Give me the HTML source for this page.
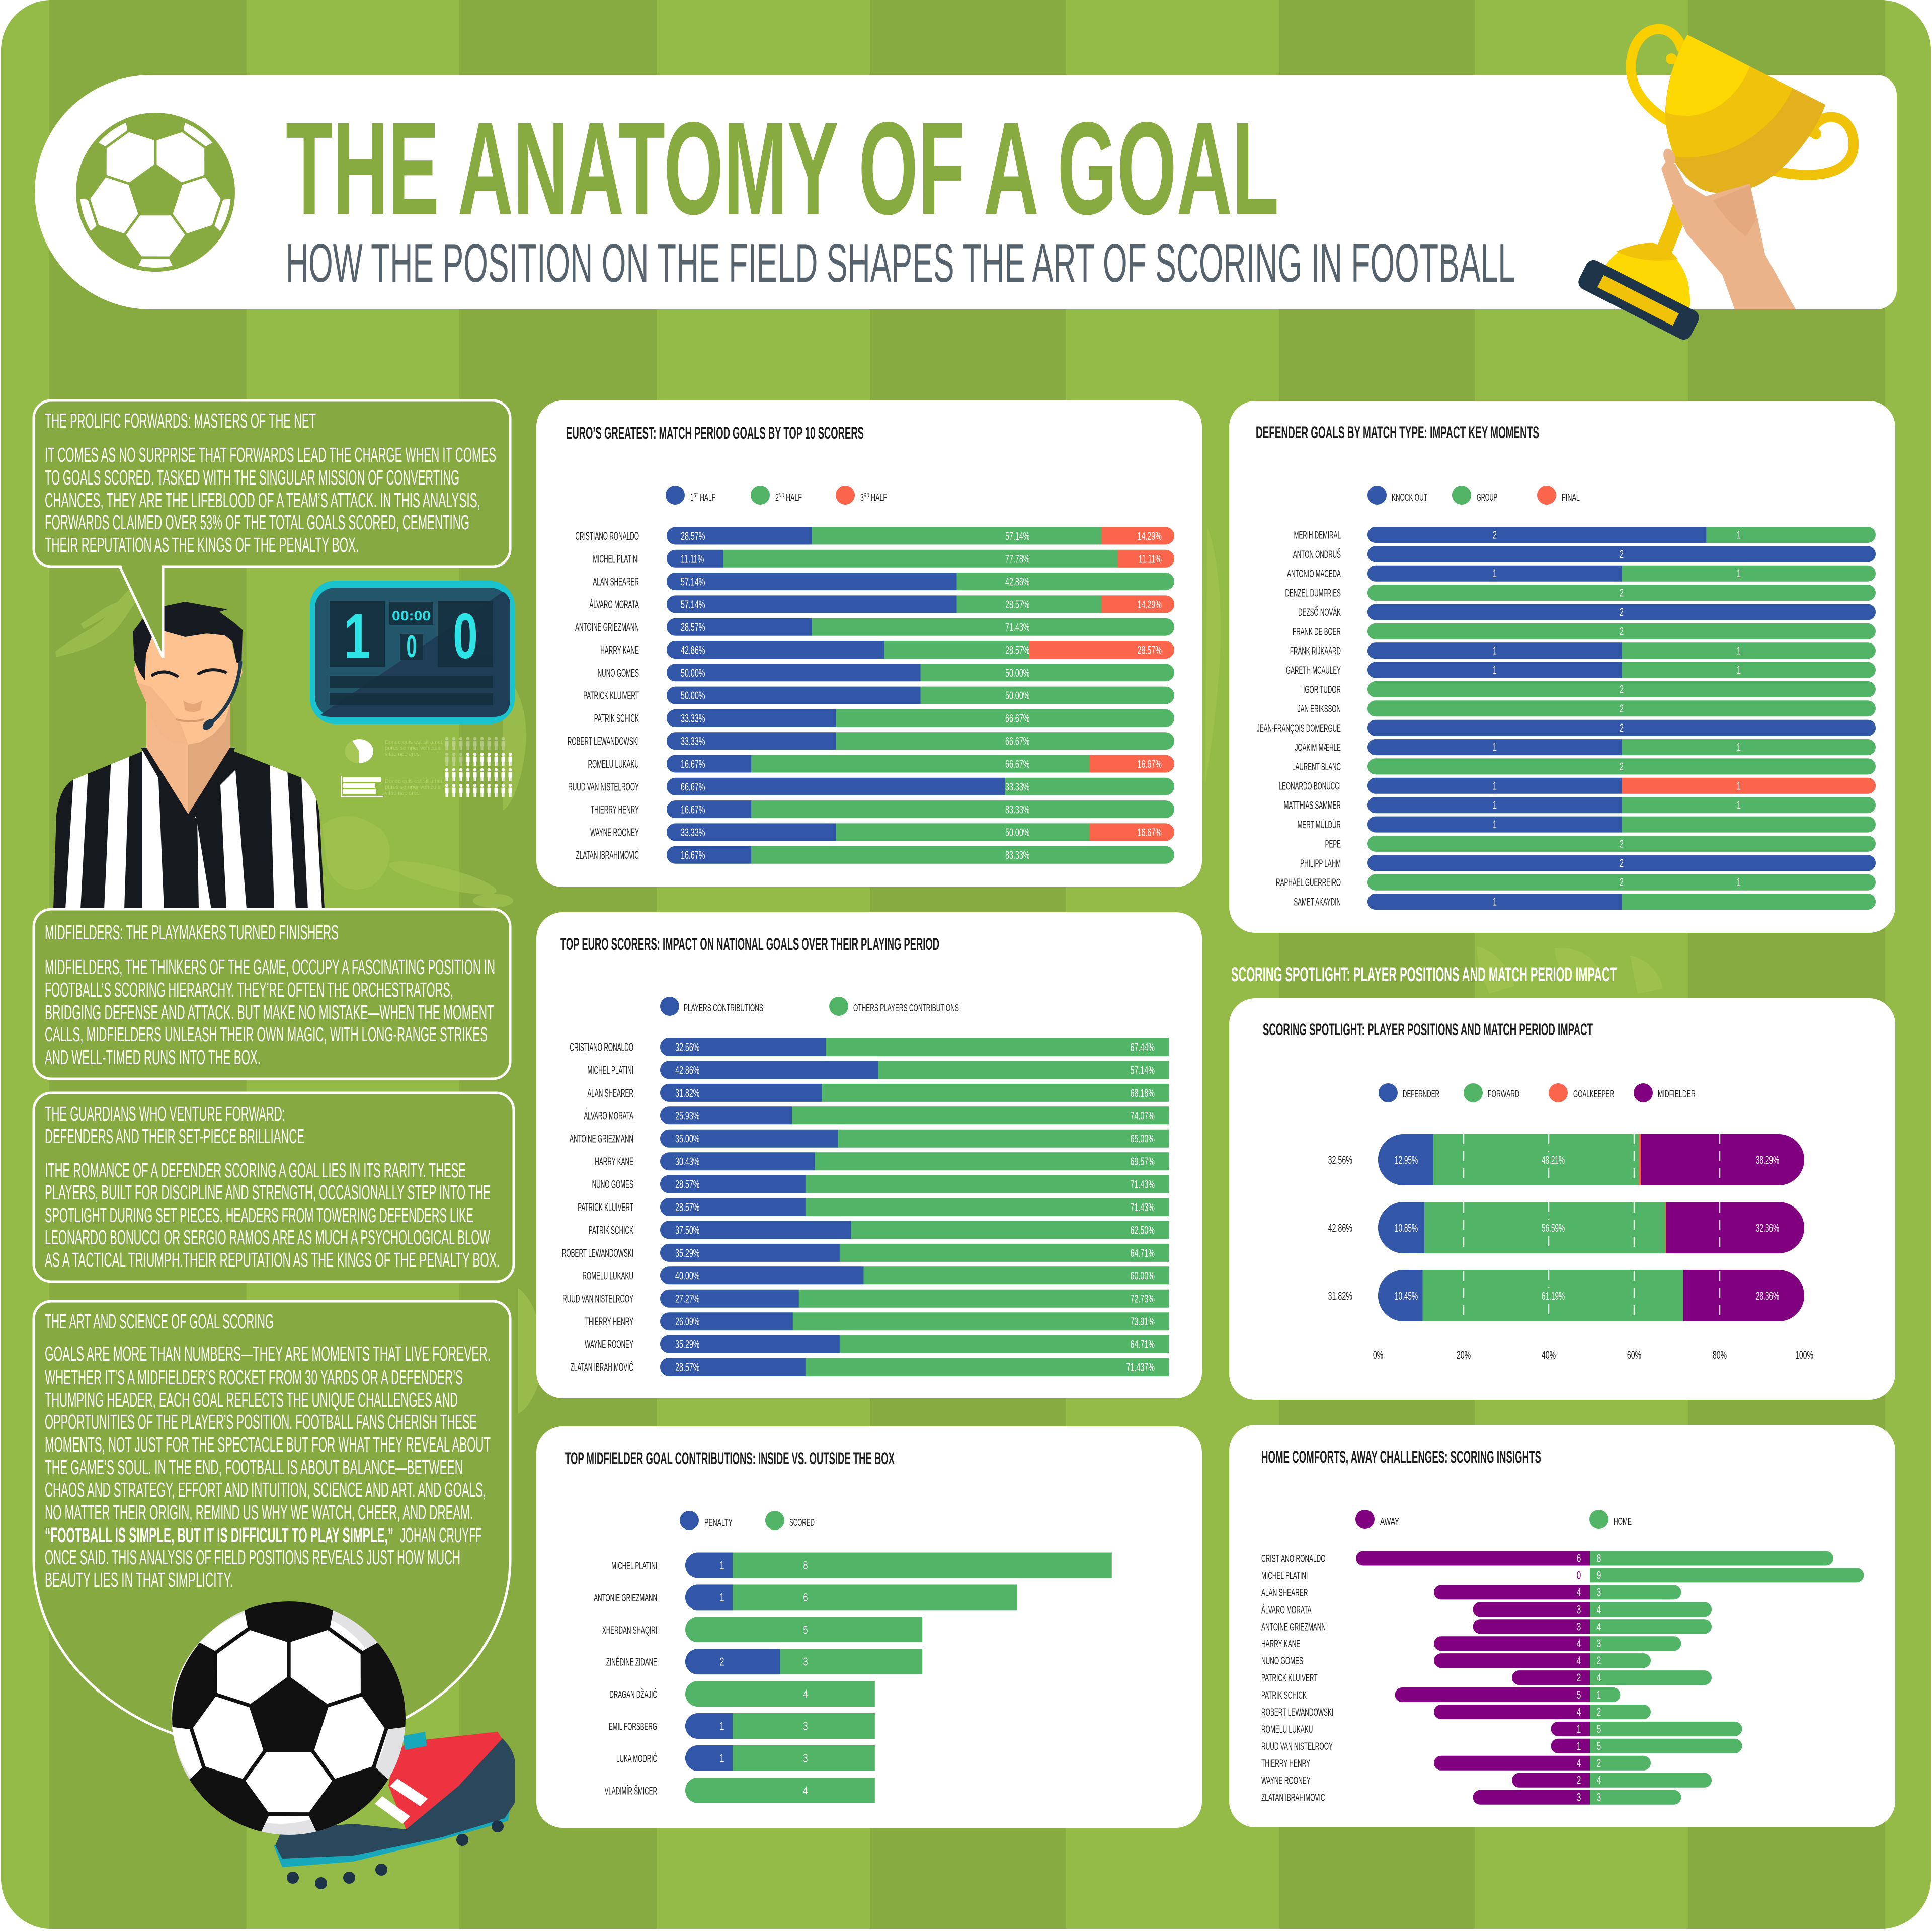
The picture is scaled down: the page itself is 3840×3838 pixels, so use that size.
<!DOCTYPE html>
<html><head><meta charset="utf-8"><title>The Anatomy of a Goal</title>
<style>
html,body{margin:0;padding:0;background:#fff;}
svg{display:block}
text{font-family:"Liberation Sans",sans-serif}
.pt{font-size:41px;fill:#fff}
.ct{font-size:34px;font-weight:bold;fill:#1c1c1c}
.lg{font-size:20px;fill:#1c1c1c}
.nm{font-size:22px;fill:#1c1c1c}
.nm2{font-size:21px;fill:#1c1c1c}
.wl{font-size:22px;fill:#fff}
.wd{font-size:23px;fill:#fff}
</style></head><body>
<svg width="3840" height="3838" viewBox="0 0 3840 3838" xmlns="http://www.w3.org/2000/svg">
<defs>
<clipPath id="pg"><rect x="2" y="0" width="3836" height="3834" rx="100"/></clipPath>
<clipPath id="bc"><circle r="151"/></clipPath>
<clipPath id="bc2"><circle r="158"/></clipPath>
<g id="arm"><line x1="0" y1="-54" x2="0" y2="-105"/><polygon points="0,-105 53,-122 64,-180 -64,-180 -53,-122"/><line x1="-53" y1="-122" x2="-100" y2="-88"/></g>
<g id="bp"><polygon points="0,-54 51.4,-16.7 31.7,43.7 -31.7,43.7 -51.4,-16.7"/><use href="#arm"/><use href="#arm" transform="rotate(72)"/><use href="#arm" transform="rotate(144)"/><use href="#arm" transform="rotate(216)"/><use href="#arm" transform="rotate(288)"/></g>
<pattern id="pp" x="881" y="1464" width="14" height="31" patternUnits="userSpaceOnUse"><circle cx="7" cy="4" r="3.3" fill="#fff"/><rect x="3.5" y="8.5" width="7" height="11" rx="1.5" fill="#fff"/><rect x="4.5" y="19" width="2.3" height="8" fill="#fff"/><rect x="7.3" y="19" width="2.3" height="8" fill="#fff"/></pattern>
<clipPath id="sh"><path d="M147 1549 L291 1490 L374 1620 L457 1490 L600 1546 Q630 1570 635 1620 L645 1807 L106 1807 L112 1620 Q118 1565 147 1549 Z"/></clipPath>
<clipPath id="c1">
<rect x="1325" y="1047.5" width="1009" height="35" rx="17.5"/><rect x="1325" y="1092.8" width="1009" height="35" rx="17.5"/><rect x="1325" y="1138.1" width="1009" height="35" rx="17.5"/><rect x="1325" y="1183.4" width="1009" height="35" rx="17.5"/><rect x="1325" y="1228.7" width="1009" height="35" rx="17.5"/><rect x="1325" y="1274" width="1009" height="35" rx="17.5"/><rect x="1325" y="1319.3" width="1009" height="35" rx="17.5"/><rect x="1325" y="1364.6" width="1009" height="35" rx="17.5"/><rect x="1325" y="1409.9" width="1009" height="35" rx="17.5"/><rect x="1325" y="1455.2" width="1009" height="35" rx="17.5"/><rect x="1325" y="1500.5" width="1009" height="35" rx="17.5"/><rect x="1325" y="1545.8" width="1009" height="35" rx="17.5"/><rect x="1325" y="1591.1" width="1009" height="35" rx="17.5"/><rect x="1325" y="1636.4" width="1009" height="35" rx="17.5"/><rect x="1325" y="1681.7" width="1009" height="35" rx="17.5"/>
</clipPath>
<clipPath id="c2">
<rect x="2718" y="1047" width="1010" height="32" rx="16"/><rect x="2718" y="1085.4" width="1010" height="32" rx="16"/><rect x="2718" y="1123.7" width="1010" height="32" rx="16"/><rect x="2718" y="1162.1" width="1010" height="32" rx="16"/><rect x="2718" y="1200.5" width="1010" height="32" rx="16"/><rect x="2718" y="1238.9" width="1010" height="32" rx="16"/><rect x="2718" y="1277.2" width="1010" height="32" rx="16"/><rect x="2718" y="1315.6" width="1010" height="32" rx="16"/><rect x="2718" y="1354" width="1010" height="32" rx="16"/><rect x="2718" y="1392.3" width="1010" height="32" rx="16"/><rect x="2718" y="1430.7" width="1010" height="32" rx="16"/><rect x="2718" y="1469.1" width="1010" height="32" rx="16"/><rect x="2718" y="1507.4" width="1010" height="32" rx="16"/><rect x="2718" y="1545.8" width="1010" height="32" rx="16"/><rect x="2718" y="1584.2" width="1010" height="32" rx="16"/><rect x="2718" y="1622.6" width="1010" height="32" rx="16"/><rect x="2718" y="1660.9" width="1010" height="32" rx="16"/><rect x="2718" y="1699.3" width="1010" height="32" rx="16"/><rect x="2718" y="1737.7" width="1010" height="32" rx="16"/><rect x="2718" y="1776" width="1010" height="32" rx="16"/>
</clipPath>
<clipPath id="c3">
<rect x="1312" y="2063" width="1060" height="36" rx="18"/><rect x="1312" y="2108.4" width="1060" height="36" rx="18"/><rect x="1312" y="2153.9" width="1060" height="36" rx="18"/><rect x="1312" y="2199.3" width="1060" height="36" rx="18"/><rect x="1312" y="2244.7" width="1060" height="36" rx="18"/><rect x="1312" y="2290.2" width="1060" height="36" rx="18"/><rect x="1312" y="2335.6" width="1060" height="36" rx="18"/><rect x="1312" y="2381" width="1060" height="36" rx="18"/><rect x="1312" y="2426.4" width="1060" height="36" rx="18"/><rect x="1312" y="2471.9" width="1060" height="36" rx="18"/><rect x="1312" y="2517.3" width="1060" height="36" rx="18"/><rect x="1312" y="2562.7" width="1060" height="36" rx="18"/><rect x="1312" y="2608.2" width="1060" height="36" rx="18"/><rect x="1312" y="2653.6" width="1060" height="36" rx="18"/><rect x="1312" y="2699" width="1060" height="36" rx="18"/>
</clipPath>
<clipPath id="c4">
<rect x="2739" y="2254" width="847" height="102" rx="51"/><rect x="2739" y="2389" width="847" height="102" rx="51"/><rect x="2739" y="2524" width="847" height="102" rx="51"/>
</clipPath>
<clipPath id="c5">
<rect x="1362" y="3085.5" width="900" height="51" rx="25.5"/><rect x="1362" y="3149.4" width="900" height="51" rx="25.5"/><rect x="1362" y="3213.3" width="900" height="51" rx="25.5"/><rect x="1362" y="3277.2" width="900" height="51" rx="25.5"/><rect x="1362" y="3341.1" width="900" height="51" rx="25.5"/><rect x="1362" y="3405" width="900" height="51" rx="25.5"/><rect x="1362" y="3468.9" width="900" height="51" rx="25.5"/><rect x="1362" y="3532.8" width="900" height="51" rx="25.5"/>
</clipPath>
</defs>

<!-- BACKGROUND -->
<g clip-path="url(#pg)">
<rect x="0" y="0" width="3840" height="3838" fill="#94BA47"/>
<rect x="98" y="0" width="392" height="3838" fill="#87AA41"/>
<rect x="913" y="0" width="392" height="3838" fill="#87AA41"/>
<rect x="1729" y="0" width="389" height="3838" fill="#87AA41"/>
<rect x="2542" y="0" width="389" height="3838" fill="#87AA41"/>
<rect x="3355" y="0" width="392" height="3838" fill="#87AA41"/>
<g fill="#A6C654" opacity="0.6">
<path d="M110 1295 C150 1262 190 1250 215 1220 C235 1195 252 1172 272 1160 L284 1178 C262 1202 250 1232 226 1256 C200 1282 160 1294 112 1306 Z"/>
<path d="M160 1240 C190 1222 215 1200 240 1195 L246 1206 C220 1218 196 1236 166 1250 Z"/>
<path d="M640 1640 C680 1610 720 1620 760 1650 C790 1690 770 1740 740 1760 C700 1780 660 1760 650 1720 Z"/>
<ellipse cx="880" cy="1745" rx="110" ry="20" transform="rotate(14 880 1745)"/>
<ellipse cx="980" cy="1790" rx="40" ry="14"/>
<path d="M1000 1340 C1030 1360 1050 1420 1045 1480 C1040 1540 1020 1600 1000 1610 Z"/>
<path d="M1030 2560 C1060 2580 1080 2640 1080 2700 C1075 2760 1050 2800 1030 2810 Z"/>
<path d="M2400 1050 C2420 1100 2430 1200 2425 1300 C2420 1400 2405 1500 2395 1560 Z"/>
<path d="M2935 1880 C2970 1890 3000 1920 3010 1960 L2960 1975 C2945 1940 2935 1910 2935 1880 Z"/>
<path d="M3090 1885 C3130 1880 3170 1900 3180 1935 L3120 1950 C3100 1930 3090 1905 3090 1885 Z"/>
<path d="M3240 1900 C3270 1905 3300 1930 3305 1965 L3255 1975 Z"/>
</g>
</g>

<!-- HEADER BANNER -->
<path d="M300 149 H3730 A40 40 0 0 1 3770 189 V575 A40 40 0 0 1 3730 615 H300 A231 233 0 0 1 300 149 Z" fill="#fff"/>
<g transform="translate(309 382)">
<circle r="158" fill="#87AA41"/>
<circle r="150" fill="#fff"/>
<g clip-path="url(#bc)" fill="#87AA41" stroke="#87AA41" stroke-width="5" stroke-linejoin="round"><use href="#bp"/></g>
</g>
<text x="568" y="425" font-size="262" font-weight="bold" fill="#87AA41" textLength="1974" lengthAdjust="spacingAndGlyphs">THE ANATOMY OF A GOAL</text>
<text x="568" y="560" font-size="109" fill="#56636D" textLength="2444" lengthAdjust="spacingAndGlyphs">HOW THE POSITION ON THE FIELD SHAPES THE ART OF SCORING IN FOOTBALL</text>

<!-- TROPHY -->
<g>
<path d="M3342 95 C3325 40 3255 45 3243 115 C3233 175 3275 215 3312 238" fill="none" stroke="#F9CF00" stroke-width="20" stroke-linecap="round"/>
<circle cx="3322" cy="117" r="11" fill="#F9CF00"/>
<path d="M3600 262 C3615 218 3680 222 3684 282 C3688 345 3610 360 3520 338" fill="none" stroke="#F0C20A" stroke-width="20" stroke-linecap="round"/>
<circle cx="3609" cy="266" r="11" fill="#F0C20A"/>
<polygon points="3333,380 3368,380 3348,440 3318,515 3283,512 3310,450" fill="#F0C20A"/>
<path d="M3190 530 Q3215 485 3285 482 Q3340 505 3355 560 Q3362 600 3357 615 L3250 600 Z" fill="#FDD803"/>
<path d="M3212 500 Q3250 482 3287 483 Q3320 495 3335 515 Q3270 525 3212 500 Z" fill="#F0C20A"/>
<rect x="-124.5" y="-31.5" width="249" height="63" rx="16" fill="#1E3449" transform="translate(3257 596) rotate(27)"/>
<rect x="-84" y="-13.5" width="168" height="27" fill="#F0C20A" transform="translate(3256 597) rotate(27)"/>
<path d="M3354 69 L3628 208 C3610 260 3560 330 3500 365 C3460 385 3410 390 3380 375 C3340 350 3318 300 3310 240 C3308 180 3325 120 3354 69 Z" fill="#F0C20C"/>
<path d="M3354 69 L3478 132 C3455 190 3410 225 3360 230 C3335 230 3318 228 3311 222 C3312 170 3328 115 3354 69 Z" fill="#FDD803"/>
<path d="M3563 175 L3628 208 C3610 260 3560 330 3500 365 C3460 385 3410 390 3380 375 C3355 360 3335 335 3322 310 C3360 318 3420 310 3470 280 C3520 248 3548 210 3563 175 Z" fill="#E3B11E"/>
<polygon points="3302,335 3310,322 3330,326 3350,365 3390,390 3478,365 3493,432 3508,505 3569,615 3448,615 3423,546 3352,464 3325,404" fill="#EBB389"/>
<ellipse cx="3318" cy="312" rx="11" ry="17" transform="rotate(-20 3318 312)" fill="#EBB389"/>
<path d="M3405 398 L3478 368 L3492 435 L3470 470 Q3430 440 3405 398 Z" fill="#DFA278" opacity="0.6"/>
</g>

<!-- LEFT: REFEREE -->
<g>
<polygon points="291,1395 374,1395 374,1620 291,1490" fill="#F5B88A"/>
<polygon points="374,1395 457,1395 457,1490 374,1620" fill="#E0A87B"/>
<g clip-path="url(#sh)">
<rect x="100" y="1470" width="560" height="340" fill="#16191E"/>
<g fill="#fff">
<polygon points="150,1480 178,1480 160,1807 130,1807"/>
<polygon points="222,1480 258,1480 247,1807 207,1807"/>
<polygon points="283,1480 312,1480 326,1807 283,1807"/>
<polygon points="362,1600 386,1600 420,1807 386,1807"/>
<polygon points="438,1560 468,1530 490,1807 450,1807"/>
<polygon points="535,1480 568,1480 588,1807 545,1807"/>
<polygon points="596,1480 622,1480 640,1807 612,1807"/>
</g>
</g>
<polygon points="280,1486 374,1648 468,1486 457,1486 374,1618 291,1486" fill="#16191E"/>
<polygon points="359,1625 392,1625 395,1807 362,1807" fill="#16191E"/>
<polygon points="288,1295 300,1264 325,1254 368,1264 411,1260 447,1262 460,1273 469,1312 478,1321 482,1336 472,1362 460,1392 447,1434 423,1460 398,1475 374,1480 343,1475 319,1460 300,1425 288,1390 273,1357 266,1330 270,1316" fill="#FDC290"/>
<polygon points="273,1357 288,1390 300,1425 319,1460 343,1475 374,1480 360,1440 330,1400 300,1365" fill="#F0B081" opacity="0.7"/>
<polygon points="264,1256 282,1232 325,1205 368,1196 417,1205 452,1211 436,1216 466,1238 482,1252 480,1322 470,1316 462,1275 447,1263 411,1259 368,1266 325,1254 302,1266 290,1300 288,1352 277,1336 267,1312" fill="#171A20"/>
<path d="M303 1342 Q326 1328 352 1344" fill="none" stroke="#171A20" stroke-width="6" stroke-linecap="round"/>
<path d="M395 1339 Q420 1325 448 1336" fill="none" stroke="#171A20" stroke-width="6" stroke-linecap="round"/>
<path d="M364 1392 Q383 1406 402 1392 L398 1412 Q383 1418 368 1412 Z" fill="#E6A677"/>
<path d="M351 1430 Q377 1438 404 1430" fill="none" stroke="#D99A6E" stroke-width="4" stroke-linecap="round"/>
<path d="M478 1316 Q472 1392 418 1438" fill="none" stroke="#1F3A4D" stroke-width="7" stroke-linecap="round"/>
<ellipse cx="414" cy="1440" rx="13" ry="8" transform="rotate(-40 414 1440)" fill="#1F3A4D"/>
</g>

<!-- SCOREBOARD -->
<g>
<rect x="616" y="1154" width="407" height="285" rx="50" fill="#19C4CF"/>
<rect x="626" y="1168" width="388" height="257" rx="40" fill="#23566A"/>
<path d="M637 1421 L1000 1176 Q1014 1185 1014 1200 V1390 Q1014 1425 980 1425 H660 Q645 1425 637 1421 Z" fill="#1F3E55"/>
<g fill="#15303F" opacity="0.9">
<rect x="655" y="1194" width="110" height="132"/>
<rect x="774" y="1196" width="87" height="46"/>
<rect x="795" y="1260" width="46" height="52"/>
<rect x="870" y="1194" width="110" height="132"/>
<rect x="655" y="1343" width="325" height="25"/>
<rect x="655" y="1378" width="325" height="24"/>
</g>
<g fill="#2CE3E6" font-weight="bold">
<text transform="translate(710 0) scale(0.75 1)" x="0" y="1308" font-size="127" text-anchor="middle">1</text>
<text transform="translate(925 0) scale(0.7 1)" x="0" y="1308" font-size="127" text-anchor="middle">0</text>
<text x="779" y="1233" font-size="27" textLength="77" lengthAdjust="spacingAndGlyphs">00:00</text>
<text transform="translate(818 0) scale(0.6 1)" x="0" y="1306" font-size="62" text-anchor="middle">0</text>
</g>
</g>
<!-- small icons -->
<ellipse cx="714" cy="1493" rx="28" ry="24" fill="#fff"/>
<path d="M714 1493 L700 1472 A28 24 0 0 0 714 1517 Z" fill="#A6C755"/>
<g fill="#fff"><rect x="682" y="1545" width="76" height="9"/><rect x="682" y="1557" width="64" height="9"/><rect x="682" y="1569" width="66" height="9"/><rect x="677" y="1542" width="2.5" height="42"/><rect x="677" y="1582" width="85" height="2.5"/></g>
<g font-size="11" fill="#B2D06A"><text x="765" y="1478">Donec quis est sit amet</text><text x="765" y="1490">purus semper vehicula</text><text x="765" y="1502">vitae nec eros.</text><text x="765" y="1556">Donec quis est sit amet</text><text x="765" y="1568">purus semper vehicula</text><text x="765" y="1580">vitae nec eros.</text></g>
<rect x="881" y="1464" width="127" height="60" fill="url(#pp)" opacity="0.35"/>
<rect x="923" y="1495" width="98" height="30" fill="url(#pp)"/>
<rect x="881" y="1526" width="141" height="62" fill="url(#pp)"/>

<!-- PANEL 1 -->
<rect x="67" y="796" width="947" height="330" rx="35" fill="#86A942" stroke="#fff" stroke-width="5"/>
<polygon points="240,1121 322,1121 322,1300" fill="#86A942"/>
<line x1="238" y1="1126" x2="324" y2="1307" stroke="#fff" stroke-width="5"/>
<line x1="324" y1="1126" x2="324" y2="1307" stroke="#fff" stroke-width="5"/>
<text class="pt" x="89" y="850" textLength="539" lengthAdjust="spacingAndGlyphs">THE PROLIFIC FORWARDS: MASTERS OF THE NET</text>
<text class="pt" x="89" y="918" textLength="897" lengthAdjust="spacingAndGlyphs">IT COMES AS NO SURPRISE THAT FORWARDS LEAD THE CHARGE WHEN IT COMES</text>
<text class="pt" x="89" y="963" textLength="824" lengthAdjust="spacingAndGlyphs">TO GOALS SCORED. TASKED WITH THE SINGULAR MISSION OF CONVERTING</text>
<text class="pt" x="89" y="1008" textLength="866" lengthAdjust="spacingAndGlyphs">CHANCES, THEY ARE THE LIFEBLOOD OF A TEAM’S ATTACK. IN THIS ANALYSIS,</text>
<text class="pt" x="89" y="1052" textLength="844" lengthAdjust="spacingAndGlyphs">FORWARDS CLAIMED OVER 53% OF THE TOTAL GOALS SCORED, CEMENTING</text>
<text class="pt" x="89" y="1097" textLength="624" lengthAdjust="spacingAndGlyphs">THEIR REPUTATION AS THE KINGS OF THE PENALTY BOX.</text>

<!-- PANEL 2 -->
<rect x="67" y="1807" width="947" height="337" rx="35" fill="#86A942" stroke="#fff" stroke-width="5"/>
<text class="pt" x="89" y="1867" textLength="584" lengthAdjust="spacingAndGlyphs">MIDFIELDERS: THE PLAYMAKERS TURNED FINISHERS</text>
<text class="pt" x="89" y="1936" textLength="895" lengthAdjust="spacingAndGlyphs">MIDFIELDERS, THE THINKERS OF THE GAME, OCCUPY A FASCINATING POSITION IN</text>
<text class="pt" x="89" y="1981" textLength="812" lengthAdjust="spacingAndGlyphs">FOOTBALL’S SCORING HIERARCHY. THEY’RE OFTEN THE ORCHESTRATORS,</text>
<text class="pt" x="89" y="2026" textLength="893" lengthAdjust="spacingAndGlyphs">BRIDGING DEFENSE AND ATTACK. BUT MAKE NO MISTAKE—WHEN THE MOMENT</text>
<text class="pt" x="89" y="2070" textLength="880" lengthAdjust="spacingAndGlyphs">CALLS, MIDFIELDERS UNLEASH THEIR OWN MAGIC, WITH LONG-RANGE STRIKES</text>
<text class="pt" x="89" y="2115" textLength="429" lengthAdjust="spacingAndGlyphs">AND WELL-TIMED RUNS INTO THE BOX.</text>

<!-- PANEL 3 -->
<rect x="67" y="2172" width="954" height="376" rx="35" fill="#86A942" stroke="#fff" stroke-width="5"/>
<text class="pt" x="89" y="2228" textLength="478" lengthAdjust="spacingAndGlyphs">THE GUARDIANS WHO VENTURE FORWARD:</text>
<text class="pt" x="89" y="2272" textLength="516" lengthAdjust="spacingAndGlyphs">DEFENDERS AND THEIR SET-PIECE BRILLIANCE</text>
<text class="pt" x="89" y="2340" textLength="837" lengthAdjust="spacingAndGlyphs">ITHE ROMANCE OF A DEFENDER SCORING A GOAL LIES IN ITS RARITY. THESE</text>
<text class="pt" x="89" y="2384" textLength="886" lengthAdjust="spacingAndGlyphs">PLAYERS, BUILT FOR DISCIPLINE AND STRENGTH, OCCASIONALLY STEP INTO THE</text>
<text class="pt" x="89" y="2429" textLength="852" lengthAdjust="spacingAndGlyphs">SPOTLIGHT DURING SET PIECES. HEADERS FROM TOWERING DEFENDERS LIKE</text>
<text class="pt" x="89" y="2473" textLength="885" lengthAdjust="spacingAndGlyphs">LEONARDO BONUCCI OR SERGIO RAMOS ARE AS MUCH A PSYCHOLOGICAL BLOW</text>
<text class="pt" x="89" y="2518" textLength="904" lengthAdjust="spacingAndGlyphs">AS A TACTICAL TRIUMPH.THEIR REPUTATION AS THE KINGS OF THE PENALTY BOX.</text>

<!-- PANEL 4 -->
<path d="M102 2586 H979 A35 35 0 0 1 1014 2621 V3100 A473.5 380 0 0 1 67 3100 V2621 A35 35 0 0 1 102 2586 Z" fill="#86A942" stroke="#fff" stroke-width="5"/>
<text class="pt" x="89" y="2640" textLength="455" lengthAdjust="spacingAndGlyphs">THE ART AND SCIENCE OF GOAL SCORING</text>
<text class="pt" x="89" y="2705" textLength="886" lengthAdjust="spacingAndGlyphs">GOALS ARE MORE THAN NUMBERS—THEY ARE MOMENTS THAT LIVE FOREVER.</text>
<text class="pt" x="89" y="2751" textLength="831" lengthAdjust="spacingAndGlyphs">WHETHER IT’S A MIDFIELDER’S ROCKET FROM 30 YARDS OR A DEFENDER’S</text>
<text class="pt" x="89" y="2796" textLength="821" lengthAdjust="spacingAndGlyphs">THUMPING HEADER, EACH GOAL REFLECTS THE UNIQUE CHALLENGES AND</text>
<text class="pt" x="89" y="2840" textLength="859" lengthAdjust="spacingAndGlyphs">OPPORTUNITIES OF THE PLAYER’S POSITION. FOOTBALL FANS CHERISH THESE</text>
<text class="pt" x="89" y="2885" textLength="886" lengthAdjust="spacingAndGlyphs">MOMENTS, NOT JUST FOR THE SPECTACLE BUT FOR WHAT THEY REVEAL ABOUT</text>
<text class="pt" x="89" y="2930" textLength="831" lengthAdjust="spacingAndGlyphs">THE GAME’S SOUL. IN THE END, FOOTBALL IS ABOUT BALANCE—BETWEEN</text>
<text class="pt" x="89" y="2975" textLength="877" lengthAdjust="spacingAndGlyphs">CHAOS AND STRATEGY, EFFORT AND INTUITION, SCIENCE AND ART. AND GOALS,</text>
<text class="pt" x="89" y="3020" textLength="851" lengthAdjust="spacingAndGlyphs">NO MATTER THEIR ORIGIN, REMIND US WHY WE WATCH, CHEER, AND DREAM.</text>
<text class="pt" x="89" y="3065" font-weight="bold" textLength="693" lengthAdjust="spacingAndGlyphs">“FOOTBALL IS SIMPLE, BUT IT IS DIFFICULT TO PLAY SIMPLE,”</text>
<text class="pt" x="795" y="3065" textLength="163" lengthAdjust="spacingAndGlyphs">JOHAN CRUYFF</text>
<text class="pt" x="89" y="3109" textLength="826" lengthAdjust="spacingAndGlyphs">ONCE SAID. THIS ANALYSIS OF FIELD POSITIONS REVEALS JUST HOW MUCH</text>
<text class="pt" x="89" y="3154" textLength="374" lengthAdjust="spacingAndGlyphs">BEAUTY LIES IN THAT SIMPLICITY.</text>

<!-- SHOE -->
<g>
<path d="M544 3668 L561 3711 L702 3700 L877 3657 L1010 3619 L1014 3592 L982 3598 L807 3646 L631 3668 Z" fill="#17A9BB"/>
<path d="M547 3668 L561 3636 L702 3625 L807 3636 L912 3549 L996 3453 C1015 3470 1024 3490 1024 3507 L1024 3582 L1003 3614 L877 3652 L702 3688 L561 3694 Z" fill="#2B475C"/>
<path d="M786 3474 L842 3458 L989 3442 L998 3456 L912 3549 L807 3636 L772 3549 Z" fill="#EE3340"/>
<path d="M745 3585 L800 3625 L815 3610 L760 3570 Z" fill="#fff"/>
<path d="M775 3550 L835 3590 L850 3575 L790 3535 Z" fill="#fff"/>
<path d="M800 3450 L845 3442 L848 3470 L805 3478 Z" fill="#17A9BB"/>
<g fill="#1E3348"><circle cx="582" cy="3732" r="12"/><circle cx="638" cy="3743" r="12"/><circle cx="694" cy="3732" r="12"/><circle cx="758" cy="3716" r="12"/><circle cx="919" cy="3657" r="12"/><circle cx="989" cy="3630" r="12"/></g>
</g>
<!-- BOTTOM BALL -->
<g transform="translate(574 3415) scale(1.468)">
<circle r="158" fill="#E2E2E5"/>
<circle cx="-12" cy="-4" r="147" fill="#fff"/>
<g clip-path="url(#bc2)" fill="#111" stroke="#111" stroke-width="5" stroke-linejoin="round"><use href="#bp"/></g>
</g>

<!-- CHART 1 -->
<rect x="1066" y="796" width="1323" height="967" rx="52" fill="#fff"/>
<text class="ct" x="1125" y="872" textLength="592" lengthAdjust="spacingAndGlyphs">EURO’S GREATEST: MATCH PERIOD GOALS BY TOP 10 SCORERS</text>
<circle cx="1342" cy="984" r="19" fill="#3256A8"/><circle cx="1511" cy="984" r="19" fill="#52B466"/><circle cx="1680" cy="984" r="19" fill="#FA654C"/>
<text class="lg" x="1372" y="995" textLength="50" lengthAdjust="spacingAndGlyphs">1<tspan font-size="12" dy="-7">ST</tspan><tspan dy="7"> HALF</tspan></text>
<text class="lg" x="1541" y="995" textLength="53" lengthAdjust="spacingAndGlyphs">2<tspan font-size="12" dy="-7">ND</tspan><tspan dy="7"> HALF</tspan></text>
<text class="lg" x="1710" y="995" textLength="53" lengthAdjust="spacingAndGlyphs">3<tspan font-size="12" dy="-7">RD</tspan><tspan dy="7"> HALF</tspan></text>
<g clip-path="url(#c1)">
<rect x="1325" y="1040" width="1009" height="680" fill="#52B466"/>
<g fill="#3256A8">
<rect x="1325" y="1047.5" width="288.3" height="35"/><rect x="1325" y="1092.8" width="112.1" height="35"/><rect x="1325" y="1138.1" width="576.5" height="35"/><rect x="1325" y="1183.4" width="576.5" height="35"/><rect x="1325" y="1228.7" width="288.3" height="35"/><rect x="1325" y="1274" width="432.5" height="35"/><rect x="1325" y="1319.3" width="504.5" height="35"/><rect x="1325" y="1364.6" width="504.5" height="35"/><rect x="1325" y="1409.9" width="336.3" height="35"/><rect x="1325" y="1455.2" width="336.3" height="35"/><rect x="1325" y="1500.5" width="168.2" height="35"/><rect x="1325" y="1545.8" width="672.7" height="35"/><rect x="1325" y="1591.1" width="168.2" height="35"/><rect x="1325" y="1636.4" width="336.3" height="35"/><rect x="1325" y="1681.7" width="168.2" height="35"/>
</g>
<g fill="#FA654C">
<rect x="2189.8" y="1047.5" width="145" height="35"/><rect x="2221.9" y="1092.8" width="113" height="35"/><rect x="2189.8" y="1183.4" width="145" height="35"/><rect x="2045.7" y="1274" width="289" height="35"/><rect x="2165.9" y="1500.5" width="169" height="35"/><rect x="2165.8" y="1636.4" width="169" height="35"/>
</g>
</g>
<g class="nm" text-anchor="end" transform="translate(1270 0) scale(0.54 1)">
<text x="0" y="1073">CRISTIANO RONALDO</text><text x="0" y="1118.3">MICHEL PLATINI</text><text x="0" y="1163.6">ALAN SHEARER</text><text x="0" y="1208.9">ÁLVARO MORATA</text><text x="0" y="1254.2">ANTOINE GRIEZMANN</text><text x="0" y="1299.5">HARRY KANE</text><text x="0" y="1344.8">NUNO GOMES</text><text x="0" y="1390.1">PATRICK KLUIVERT</text><text x="0" y="1435.4">PATRIK SCHICK</text><text x="0" y="1480.7">ROBERT LEWANDOWSKI</text><text x="0" y="1526">ROMELU LUKAKU</text><text x="0" y="1571.3">RUUD VAN NISTELROOY</text><text x="0" y="1616.6">THIERRY HENRY</text><text x="0" y="1661.9">WAYNE ROONEY</text><text x="0" y="1707.2">ZLATAN IBRAHIMOVIĆ</text>
</g>
<g class="wl" transform="translate(1353 0) scale(0.65 1)">
<text x="0" y="1073">28.57%</text><text x="0" y="1118.3">11.11%</text><text x="0" y="1163.6">57.14%</text><text x="0" y="1208.9">57.14%</text><text x="0" y="1254.2">28.57%</text><text x="0" y="1299.5">42.86%</text><text x="0" y="1344.8">50.00%</text><text x="0" y="1390.1">50.00%</text><text x="0" y="1435.4">33.33%</text><text x="0" y="1480.7">33.33%</text><text x="0" y="1526">16.67%</text><text x="0" y="1571.3">66.67%</text><text x="0" y="1616.6">16.67%</text><text x="0" y="1661.9">33.33%</text><text x="0" y="1707.2">16.67%</text>
</g>
<g class="wl" transform="translate(1998 0) scale(0.65 1)">
<text x="0" y="1073">57.14%</text><text x="0" y="1118.3">77.78%</text><text x="0" y="1163.6">42.86%</text><text x="0" y="1208.9">28.57%</text><text x="0" y="1254.2">71.43%</text><text x="0" y="1299.5">28.57%</text><text x="0" y="1344.8">50.00%</text><text x="0" y="1390.1">50.00%</text><text x="0" y="1435.4">66.67%</text><text x="0" y="1480.7">66.67%</text><text x="0" y="1526">66.67%</text><text x="0" y="1571.3">33.33%</text><text x="0" y="1616.6">83.33%</text><text x="0" y="1661.9">50.00%</text><text x="0" y="1707.2">83.33%</text>
</g>
<g class="wl" text-anchor="end" transform="translate(2309 0) scale(0.65 1)">
<text x="0" y="1073">14.29%</text><text x="0" y="1118.3">11.11%</text><text x="0" y="1208.9">14.29%</text><text x="0" y="1299.5">28.57%</text><text x="0" y="1526">16.67%</text><text x="0" y="1661.9">16.67%</text>
</g>

<!-- CHART 2 -->
<rect x="2443" y="797" width="1324" height="1057" rx="52" fill="#fff"/>
<text class="ct" x="2496" y="871" textLength="563" lengthAdjust="spacingAndGlyphs">DEFENDER GOALS BY MATCH TYPE: IMPACT KEY MOMENTS</text>
<circle cx="2737" cy="984" r="19" fill="#3256A8"/><circle cx="2905" cy="984" r="19" fill="#52B466"/><circle cx="3074" cy="984" r="19" fill="#FA654C"/>
<text class="lg" x="2766" y="995" textLength="71" lengthAdjust="spacingAndGlyphs">KNOCK OUT</text>
<text class="lg" x="2935" y="995" textLength="41" lengthAdjust="spacingAndGlyphs">GROUP</text>
<text class="lg" x="3104" y="995" textLength="36" lengthAdjust="spacingAndGlyphs">FINAL</text>
<g clip-path="url(#c2)">
<rect x="2718" y="1040" width="1010" height="770" fill="#52B466"/>
<g fill="#3256A8">
<rect x="2718" y="1047" width="673.3" height="32"/><rect x="2718" y="1085.4" width="1010" height="32"/><rect x="2718" y="1123.7" width="505" height="32"/><rect x="2718" y="1200.5" width="1010" height="32"/><rect x="2718" y="1277.2" width="505" height="32"/><rect x="2718" y="1315.6" width="505" height="32"/><rect x="2718" y="1430.7" width="1010" height="32"/><rect x="2718" y="1469.1" width="505" height="32"/><rect x="2718" y="1545.8" width="505" height="32"/><rect x="2718" y="1584.2" width="505" height="32"/><rect x="2718" y="1622.6" width="505" height="32"/><rect x="2718" y="1699.3" width="1010" height="32"/><rect x="2718" y="1776" width="505" height="32"/>
</g>
<rect x="3223" y="1545.8" width="505" height="32" fill="#FA654C"/>
</g>
<g class="nm2" text-anchor="end" transform="translate(2665 0) scale(0.56 1)">
<text x="0" y="1070.5">MERIH DEMIRAL</text><text x="0" y="1108.9">ANTON ONDRUŠ</text><text x="0" y="1147.2">ANTONIO MACEDA</text><text x="0" y="1185.6">DENZEL DUMFRIES</text><text x="0" y="1224">DEZSŐ NOVÁK</text><text x="0" y="1262.4">FRANK DE BOER</text><text x="0" y="1300.7">FRANK RIJKAARD</text><text x="0" y="1339.1">GARETH MCAULEY</text><text x="0" y="1377.5">IGOR TUDOR</text><text x="0" y="1415.8">JAN ERIKSSON</text><text x="0" y="1454.2">JEAN-FRANÇOIS DOMERGUE</text><text x="0" y="1492.6">JOAKIM MÆHLE</text><text x="0" y="1530.9">LAURENT BLANC</text><text x="0" y="1569.3">LEONARDO BONUCCI</text><text x="0" y="1607.7">MATTHIAS SAMMER</text><text x="0" y="1646.1">MERT MÜLDÜR</text><text x="0" y="1684.4">PEPE</text><text x="0" y="1722.8">PHILIPP LAHM</text><text x="0" y="1761.2">RAPHAËL GUERREIRO</text><text x="0" y="1799.5">SAMET AKAYDIN</text>
</g>
<g class="wl" text-anchor="middle" transform="translate(2971 0) scale(0.65 1)">
<text x="0" y="1070.5">2</text><text x="0" y="1147.2">1</text><text x="0" y="1300.7">1</text><text x="0" y="1339.1">1</text><text x="0" y="1492.6">1</text><text x="0" y="1569.3">1</text><text x="0" y="1607.7">1</text><text x="0" y="1646.1">1</text><text x="0" y="1799.5">1</text>
</g>
<g class="wl" text-anchor="middle" transform="translate(3223 0) scale(0.65 1)">
<text x="0" y="1108.9">2</text><text x="0" y="1185.6">2</text><text x="0" y="1224">2</text><text x="0" y="1262.4">2</text><text x="0" y="1377.5">2</text><text x="0" y="1415.8">2</text><text x="0" y="1454.2">2</text><text x="0" y="1530.9">2</text><text x="0" y="1684.4">2</text><text x="0" y="1722.8">2</text><text x="0" y="1761.2">2</text>
</g>
<g class="wl" text-anchor="middle" transform="translate(3456 0) scale(0.65 1)">
<text x="0" y="1070.5">1</text><text x="0" y="1147.2">1</text><text x="0" y="1300.7">1</text><text x="0" y="1339.1">1</text><text x="0" y="1492.6">1</text><text x="0" y="1569.3">1</text><text x="0" y="1607.7">1</text><text x="0" y="1761.2">1</text>
</g>

<!-- CHART 3 -->
<rect x="1066" y="1813" width="1323" height="966" rx="52" fill="#fff"/>
<text class="ct" x="1114" y="1888" textLength="753" lengthAdjust="spacingAndGlyphs">TOP EURO SCORERS: IMPACT ON NATIONAL GOALS OVER THEIR PLAYING PERIOD</text>
<circle cx="1331" cy="2000" r="19" fill="#3256A8"/><circle cx="1667" cy="2000" r="19" fill="#52B466"/>
<text class="lg" x="1359" y="2010" textLength="158" lengthAdjust="spacingAndGlyphs">PLAYERS CONTRIBUTIONS</text>
<text class="lg" x="1696" y="2010" textLength="210" lengthAdjust="spacingAndGlyphs">OTHERS PLAYERS CONTRIBUTIONS</text>
<g clip-path="url(#c3)">
<rect x="1312" y="2060" width="1011" height="680" fill="#52B466"/>
<g fill="#3256A8">
<rect x="1312" y="2063" width="329.2" height="36"/><rect x="1312" y="2108.4" width="433.3" height="36"/><rect x="1312" y="2153.9" width="321.7" height="36"/><rect x="1312" y="2199.3" width="262.2" height="36"/><rect x="1312" y="2244.7" width="353.9" height="36"/><rect x="1312" y="2290.2" width="307.6" height="36"/><rect x="1312" y="2335.6" width="288.8" height="36"/><rect x="1312" y="2381" width="288.8" height="36"/><rect x="1312" y="2426.4" width="379.1" height="36"/><rect x="1312" y="2471.9" width="356.8" height="36"/><rect x="1312" y="2517.3" width="404.4" height="36"/><rect x="1312" y="2562.7" width="275.7" height="36"/><rect x="1312" y="2608.2" width="263.8" height="36"/><rect x="1312" y="2653.6" width="356.8" height="36"/><rect x="1312" y="2699" width="288.8" height="36"/>
</g>
</g>
<g class="nm" text-anchor="end" transform="translate(1259 0) scale(0.54 1)">
<text x="0" y="2089">CRISTIANO RONALDO</text><text x="0" y="2134.4">MICHEL PLATINI</text><text x="0" y="2179.9">ALAN SHEARER</text><text x="0" y="2225.3">ÁLVARO MORATA</text><text x="0" y="2270.7">ANTOINE GRIEZMANN</text><text x="0" y="2316.2">HARRY KANE</text><text x="0" y="2361.6">NUNO GOMES</text><text x="0" y="2407">PATRICK KLUIVERT</text><text x="0" y="2452.4">PATRIK SCHICK</text><text x="0" y="2497.9">ROBERT LEWANDOWSKI</text><text x="0" y="2543.3">ROMELU LUKAKU</text><text x="0" y="2588.7">RUUD VAN NISTELROOY</text><text x="0" y="2634.2">THIERRY HENRY</text><text x="0" y="2679.6">WAYNE ROONEY</text><text x="0" y="2725">ZLATAN IBRAHIMOVIĆ</text>
</g>
<g class="wl" transform="translate(1342 0) scale(0.65 1)">
<text x="0" y="2089">32.56%</text><text x="0" y="2134.4">42.86%</text><text x="0" y="2179.9">31.82%</text><text x="0" y="2225.3">25.93%</text><text x="0" y="2270.7">35.00%</text><text x="0" y="2316.2">30.43%</text><text x="0" y="2361.6">28.57%</text><text x="0" y="2407">28.57%</text><text x="0" y="2452.4">37.50%</text><text x="0" y="2497.9">35.29%</text><text x="0" y="2543.3">40.00%</text><text x="0" y="2588.7">27.27%</text><text x="0" y="2634.2">26.09%</text><text x="0" y="2679.6">35.29%</text><text x="0" y="2725">28.57%</text>
</g>
<g class="wl" text-anchor="end" transform="translate(2295 0) scale(0.65 1)">
<text x="0" y="2089">67.44%</text><text x="0" y="2134.4">57.14%</text><text x="0" y="2179.9">68.18%</text><text x="0" y="2225.3">74.07%</text><text x="0" y="2270.7">65.00%</text><text x="0" y="2316.2">69.57%</text><text x="0" y="2361.6">71.43%</text><text x="0" y="2407">71.43%</text><text x="0" y="2452.4">62.50%</text><text x="0" y="2497.9">64.71%</text><text x="0" y="2543.3">60.00%</text><text x="0" y="2588.7">72.73%</text><text x="0" y="2634.2">73.91%</text><text x="0" y="2679.6">64.71%</text><text x="0" y="2725">71.437%</text>
</g>

<!-- CHART 4: SPOTLIGHT -->
<text x="2447" y="1950" font-size="40" font-weight="bold" fill="#fff" textLength="766" lengthAdjust="spacingAndGlyphs">SCORING SPOTLIGHT: PLAYER POSITIONS AND MATCH PERIOD IMPACT</text>
<rect x="2443" y="1984" width="1324" height="798" rx="52" fill="#fff"/>
<text class="ct" x="2510" y="2058" textLength="656" lengthAdjust="spacingAndGlyphs">SCORING SPOTLIGHT: PLAYER POSITIONS AND MATCH PERIOD IMPACT</text>
<circle cx="2759" cy="2172" r="19" fill="#3256A8"/><circle cx="2928" cy="2172" r="19" fill="#52B466"/><circle cx="3097" cy="2172" r="19" fill="#FA654C"/><circle cx="3266" cy="2172" r="19" fill="#800080"/>
<text class="lg" x="2788" y="2181" textLength="73" lengthAdjust="spacingAndGlyphs">DEFERNDER</text>
<text class="lg" x="2957" y="2181" textLength="63" lengthAdjust="spacingAndGlyphs">FORWARD</text>
<text class="lg" x="3127" y="2181" textLength="81" lengthAdjust="spacingAndGlyphs">GOALKEEPER</text>
<text class="lg" x="3295" y="2181" textLength="75" lengthAdjust="spacingAndGlyphs">MIDFIELDER</text>
<g clip-path="url(#c4)">
<rect x="2739" y="2254" width="847" height="102" fill="#800080"/>
<rect x="2739" y="2254" width="522.7" height="102" fill="#FA654C"/>
<rect x="2739" y="2254" width="518" height="102" fill="#52B466"/>
<rect x="2739" y="2254" width="109.7" height="102" fill="#3256A8"/>
<rect x="2739" y="2389" width="847" height="102" fill="#800080"/>
<rect x="2739" y="2389" width="573" height="102" fill="#FA654C"/>
<rect x="2739" y="2389" width="571.2" height="102" fill="#52B466"/>
<rect x="2739" y="2389" width="91.9" height="102" fill="#3256A8"/>
<rect x="2739" y="2524" width="847" height="102" fill="#800080"/>
<rect x="2739" y="2524" width="606.8" height="102" fill="#52B466"/>
<rect x="2739" y="2524" width="88.5" height="102" fill="#3256A8"/>
<g stroke="#fff" stroke-width="2.5" stroke-dasharray="20 14" opacity="0.85">
<line x1="2909" y1="2254" x2="2909" y2="2626"/>
<line x1="3078" y1="2254" x2="3078" y2="2290"/><line x1="3078" y1="2322" x2="3078" y2="2356"/>
<line x1="3078" y1="2389" x2="3078" y2="2425"/><line x1="3078" y1="2457" x2="3078" y2="2491"/>
<line x1="3078" y1="2524" x2="3078" y2="2560"/><line x1="3078" y1="2592" x2="3078" y2="2626"/>
<line x1="3248" y1="2254" x2="3248" y2="2626"/><line x1="3418" y1="2254" x2="3418" y2="2626"/>
</g>
</g>
<g class="wl" text-anchor="middle" transform="translate(2795 0) scale(0.62 1)"><text x="0" y="2313">12.95%</text><text x="0" y="2448">10.85%</text><text x="0" y="2583">10.45%</text></g>
<g class="wl" text-anchor="middle" transform="translate(3087 0) scale(0.62 1)"><text x="0" y="2313">48.21%</text><text x="0" y="2448">56.59%</text><text x="0" y="2583">61.19%</text></g>
<g class="wl" text-anchor="middle" transform="translate(3513 0) scale(0.62 1)"><text x="0" y="2313">38.29%</text><text x="0" y="2448">32.36%</text><text x="0" y="2583">28.36%</text></g>
<g class="nm" text-anchor="end" transform="translate(2688 0) scale(0.65 1)"><text x="0" y="2313">32.56%</text><text x="0" y="2448">42.86%</text><text x="0" y="2583">31.82%</text></g>
<g class="nm" text-anchor="middle">
<text transform="translate(2739 0) scale(0.64 1)" x="0" y="2701">0%</text>
<text transform="translate(2909 0) scale(0.64 1)" x="0" y="2701">20%</text>
<text transform="translate(3078 0) scale(0.64 1)" x="0" y="2701">40%</text>
<text transform="translate(3248 0) scale(0.64 1)" x="0" y="2701">60%</text>
<text transform="translate(3418 0) scale(0.64 1)" x="0" y="2701">80%</text>
<text transform="translate(3586 0) scale(0.64 1)" x="0" y="2701">100%</text>
</g>

<!-- CHART 5: MIDFIELDER -->
<rect x="1066" y="2835" width="1323" height="798" rx="52" fill="#fff"/>
<text class="ct" x="1123" y="2910" textLength="655" lengthAdjust="spacingAndGlyphs">TOP MIDFIELDER GOAL CONTRIBUTIONS: INSIDE VS. OUTSIDE THE BOX</text>
<circle cx="1370" cy="3022" r="19" fill="#3256A8"/><circle cx="1540" cy="3022" r="19" fill="#52B466"/>
<text class="lg" x="1400" y="3033" textLength="56" lengthAdjust="spacingAndGlyphs">PENALTY</text>
<text class="lg" x="1569" y="3033" textLength="50" lengthAdjust="spacingAndGlyphs">SCORED</text>
<g clip-path="url(#c5)">
<g fill="#52B466">
<rect x="1362" y="3085.5" width="847.8" height="51"/><rect x="1362" y="3149.4" width="659.4" height="51"/><rect x="1362" y="3213.3" width="471" height="51"/><rect x="1362" y="3277.2" width="471" height="51"/><rect x="1362" y="3341.1" width="376.8" height="51"/><rect x="1362" y="3405" width="376.8" height="51"/><rect x="1362" y="3468.9" width="376.8" height="51"/><rect x="1362" y="3532.8" width="376.8" height="51"/>
</g>
<g fill="#3256A8">
<rect x="1362" y="3085.5" width="94.2" height="51"/><rect x="1362" y="3149.4" width="94.2" height="51"/><rect x="1362" y="3277.2" width="188.4" height="51"/><rect x="1362" y="3405" width="94.2" height="51"/><rect x="1362" y="3468.9" width="94.2" height="51"/>
</g>
</g>
<g class="nm2" text-anchor="end" transform="translate(1306 0) scale(0.56 1)">
<text x="0" y="3119">MICHEL PLATINI</text><text x="0" y="3182.9">ANTONIE GRIEZMANN</text><text x="0" y="3246.8">XHERDAN SHAQIRI</text><text x="0" y="3310.7">ZINÉDINE ZIDANE</text><text x="0" y="3374.6">DRAGAN DŽAJIĆ</text><text x="0" y="3438.5">EMIL FORSBERG</text><text x="0" y="3502.4">LUKA MODRIĆ</text><text x="0" y="3566.3">VLADIMÍR ŠMICER</text>
</g>
<g class="wd" text-anchor="middle" transform="translate(1435 0) scale(0.7 1)">
<text x="0" y="3119">1</text><text x="0" y="3182.9">1</text><text x="0" y="3310.7">2</text><text x="0" y="3438.5">1</text><text x="0" y="3502.4">1</text>
</g>
<g class="wd" text-anchor="middle" transform="translate(1601 0) scale(0.7 1)">
<text x="0" y="3119">8</text><text x="0" y="3182.9">6</text><text x="0" y="3246.8">5</text><text x="0" y="3310.7">3</text><text x="0" y="3374.6">4</text><text x="0" y="3438.5">3</text><text x="0" y="3502.4">3</text><text x="0" y="3566.3">4</text>
</g>

<!-- CHART 6: HOME / AWAY -->
<rect x="2443" y="2832" width="1324" height="800" rx="52" fill="#fff"/>
<text class="ct" x="2507" y="2907" textLength="556" lengthAdjust="spacingAndGlyphs">HOME COMFORTS, AWAY CHALLENGES: SCORING INSIGHTS</text>
<circle cx="2713" cy="3020" r="19" fill="#800080"/><circle cx="3178" cy="3020" r="19" fill="#52B466"/>
<text class="lg" x="2743" y="3031" textLength="38" lengthAdjust="spacingAndGlyphs">AWAY</text>
<text class="lg" x="3207" y="3031" textLength="36" lengthAdjust="spacingAndGlyphs">HOME</text>
<g fill="#800080">
<path d="M3160 3082.5 H2709.5 A14.5 14.5 0 0 0 2709.5 3111.5 H3160 Z"/>
<path d="M3160 3150.4 H2864.5 A14.5 14.5 0 0 0 2864.5 3179.4 H3160 Z"/>
<path d="M3160 3184.3 H2942 A14.5 14.5 0 0 0 2942 3213.3 H3160 Z"/>
<path d="M3160 3218.3 H2942 A14.5 14.5 0 0 0 2942 3247.3 H3160 Z"/>
<path d="M3160 3252.2 H2864.5 A14.5 14.5 0 0 0 2864.5 3281.2 H3160 Z"/>
<path d="M3160 3286.1 H2864.5 A14.5 14.5 0 0 0 2864.5 3315.1 H3160 Z"/>
<path d="M3160 3320.1 H3019.5 A14.5 14.5 0 0 0 3019.5 3349.1 H3160 Z"/>
<path d="M3160 3354 H2787 A14.5 14.5 0 0 0 2787 3383 H3160 Z"/>
<path d="M3160 3388 H2864.5 A14.5 14.5 0 0 0 2864.5 3417 H3160 Z"/>
<path d="M3160 3421.9 H3097 A14.5 14.5 0 0 0 3097 3450.9 H3160 Z"/>
<path d="M3160 3455.8 H3097 A14.5 14.5 0 0 0 3097 3484.8 H3160 Z"/>
<path d="M3160 3489.8 H2864.5 A14.5 14.5 0 0 0 2864.5 3518.8 H3160 Z"/>
<path d="M3160 3523.7 H3019.5 A14.5 14.5 0 0 0 3019.5 3552.7 H3160 Z"/>
<path d="M3160 3557.7 H2942 A14.5 14.5 0 0 0 2942 3586.7 H3160 Z"/>
</g>
<g fill="#52B466">
<path d="M3160 3082.5 H3629.5 A14.5 14.5 0 0 1 3629.5 3111.5 H3160 Z"/>
<path d="M3160 3116.4 H3690 A14.5 14.5 0 0 1 3690 3145.4 H3160 Z"/>
<path d="M3160 3150.4 H3327 A14.5 14.5 0 0 1 3327 3179.4 H3160 Z"/>
<path d="M3160 3184.3 H3387.5 A14.5 14.5 0 0 1 3387.5 3213.3 H3160 Z"/>
<path d="M3160 3218.3 H3387.5 A14.5 14.5 0 0 1 3387.5 3247.3 H3160 Z"/>
<path d="M3160 3252.2 H3327 A14.5 14.5 0 0 1 3327 3281.2 H3160 Z"/>
<path d="M3160 3286.1 H3266.5 A14.5 14.5 0 0 1 3266.5 3315.1 H3160 Z"/>
<path d="M3160 3320.1 H3387.5 A14.5 14.5 0 0 1 3387.5 3349.1 H3160 Z"/>
<path d="M3160 3354 H3206 A14.5 14.5 0 0 1 3206 3383 H3160 Z"/>
<path d="M3160 3388 H3266.5 A14.5 14.5 0 0 1 3266.5 3417 H3160 Z"/>
<path d="M3160 3421.9 H3448 A14.5 14.5 0 0 1 3448 3450.9 H3160 Z"/>
<path d="M3160 3455.8 H3448 A14.5 14.5 0 0 1 3448 3484.8 H3160 Z"/>
<path d="M3160 3489.8 H3266.5 A14.5 14.5 0 0 1 3266.5 3518.8 H3160 Z"/>
<path d="M3160 3523.7 H3387.5 A14.5 14.5 0 0 1 3387.5 3552.7 H3160 Z"/>
<path d="M3160 3557.7 H3327 A14.5 14.5 0 0 1 3327 3586.7 H3160 Z"/>
</g>
<g class="nm2" transform="translate(2507 0) scale(0.57 1)">
<text x="0" y="3104.5">CRISTIANO RONALDO</text><text x="0" y="3138.4">MICHEL PLATINI</text><text x="0" y="3172.4">ALAN SHEARER</text><text x="0" y="3206.3">ÁLVARO MORATA</text><text x="0" y="3240.3">ANTOINE GRIEZMANN</text><text x="0" y="3274.2">HARRY KANE</text><text x="0" y="3308.1">NUNO GOMES</text><text x="0" y="3342.1">PATRICK KLUIVERT</text><text x="0" y="3376">PATRIK SCHICK</text><text x="0" y="3410">ROBERT LEWANDOWSKI</text><text x="0" y="3443.9">ROMELU LUKAKU</text><text x="0" y="3477.8">RUUD VAN NISTELROOY</text><text x="0" y="3511.8">THIERRY HENRY</text><text x="0" y="3545.7">WAYNE ROONEY</text><text x="0" y="3579.7">ZLATAN IBRAHIMOVIĆ</text>
</g>
<g class="wl" text-anchor="middle" transform="translate(3138 0) scale(0.7 1)">
<text x="0" y="3104.5">6</text><text x="0" y="3138.4" fill="#800080">0</text><text x="0" y="3172.4">4</text><text x="0" y="3206.3">3</text><text x="0" y="3240.3">3</text><text x="0" y="3274.2">4</text><text x="0" y="3308.1">4</text><text x="0" y="3342.1">2</text><text x="0" y="3376">5</text><text x="0" y="3410">4</text><text x="0" y="3443.9">1</text><text x="0" y="3477.8">1</text><text x="0" y="3511.8">4</text><text x="0" y="3545.7">2</text><text x="0" y="3579.7">3</text>
</g>
<g class="wl" text-anchor="middle" transform="translate(3178 0) scale(0.7 1)">
<text x="0" y="3104.5">8</text><text x="0" y="3138.4">9</text><text x="0" y="3172.4">3</text><text x="0" y="3206.3">4</text><text x="0" y="3240.3">4</text><text x="0" y="3274.2">3</text><text x="0" y="3308.1">2</text><text x="0" y="3342.1">4</text><text x="0" y="3376">1</text><text x="0" y="3410">2</text><text x="0" y="3443.9">5</text><text x="0" y="3477.8">5</text><text x="0" y="3511.8">2</text><text x="0" y="3545.7">4</text><text x="0" y="3579.7">3</text>
</g>
</svg>
</body></html>
